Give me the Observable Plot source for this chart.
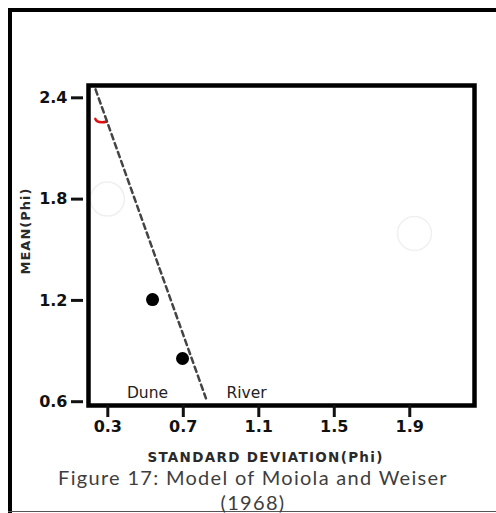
<!DOCTYPE html>
<html><head><meta charset="utf-8">
<script src="https://cdn.jsdelivr.net/npm/d3@7"></script>
<script src="https://cdn.jsdelivr.net/npm/@observablehq/plot@0.6"></script>
<style>
body{margin:0;background:#fff;}
#wrap{position:relative;width:496px;height:513px;overflow:hidden;}
#outer{position:absolute;left:8px;top:8px;width:540px;height:520px;border-left:4px solid #000;border-top:4px solid #000;box-sizing:border-box;}
#bottomline{position:absolute;left:8px;top:511px;width:500px;height:0;border-top:1.5px solid #555;}
#chart{position:absolute;left:0;top:0;}
.cap{position:absolute;left:0;width:506px;text-align:center;font-family:Lato,sans-serif;font-size:20px;color:#3e3e3e;letter-spacing:1.3px;line-height:22px;}
.xlab{letter-spacing:1.3px;}
.ylab{letter-spacing:1px;}
</style></head>
<body>
<div id="wrap"><div id="outer"></div><div id="bottomline"></div><div id="chart"></div>
<div class="cap" id="cap1" style="top:466px"></div><div class="cap" id="cap2" style="top:491px"></div></div>
<script>
// data
const stdDev = [0.537, 0.696];
const meanPhi = [1.205, 0.856];
const boundaryX = [0.235, 0.82];
const boundaryY = [2.45, 0.62];
const fieldNames = ["Dune", "River"];
const fieldX = [0.51, 1.035];
const fieldY = [0.649, 0.649];
const faintX = [0.298, 1.925];
const faintY = [1.80, 1.596];
const redArcX = [0.234, 0.245, 0.27, 0.295];
const redArcY = [2.275, 2.26, 2.255, 2.26];
const xTicks = [0.3, 0.7, 1.1, 1.5, 1.9];
const yTicks = [0.6, 1.2, 1.8, 2.4];
const xLabel = "STANDARD DEVIATION(Phi)";
const yLabel = "MEAN(Phi)";
const captionLines = ["Figure 17: Model of Moiola and Weiser", "(1968)"];

const points = stdDev.map((x, i) => ({x, y: meanPhi[i]}));
const boundary = boundaryX.map((x, i) => ({x, y: boundaryY[i]}));
const fields = fieldNames.map((t, i) => ({t, x: fieldX[i], y: fieldY[i]}));
const faint = faintX.map((x, i) => ({x, y: faintY[i]}));
const redArc = redArcX.map((x, i) => ({x, y: redArcY[i]}));
const F = "DejaVu Sans";

const chart = Plot.plot({
  width: 496, height: 470,
  marginLeft: 88, marginRight: 22, marginTop: 85, marginBottom: 65,
  style: {fontFamily: F, color: "#111", background: "transparent", overflow: "visible"},
  x: {domain: [0.1977, 2.243]},
  y: {domain: [0.5775, 2.473]},
  marks: [
    Plot.dot(faint, {x: "x", y: "y", r: 17, stroke: "#f0f0f0", strokeWidth: 1.5}),
    Plot.line(redArc, {x: "x", y: "y", stroke: "#e01010", strokeWidth: 2.5, curve: "natural"}),
    Plot.line(boundary, {x: "x", y: "y", stroke: "#444", strokeWidth: 2.5, strokeDasharray: "5.5,4"}),
    Plot.dot(points, {x: "x", y: "y", r: 6.5, fill: "#000"}),
    Plot.text(fields, {x: "x", y: "y", text: "t", fontSize: 15.5, fontFamily: F, fill: "#222"}),
    Plot.frame({stroke: "#000", strokeWidth: 4.5}),
    Plot.axisX({ticks: xTicks, tickSize: 12, tickPadding: 3, strokeWidth: 3, fontSize: 16, fontFamily: F, fontWeight: "bold", fill: "#111", label: null, tickFormat: d => d.toFixed(1)}),
    Plot.axisY({ticks: yTicks, tickSize: 12, tickPadding: 4, dx: -5, strokeWidth: 3, fontSize: 16, fontFamily: F, fontWeight: "bold", fill: "#111", label: null, tickFormat: d => d.toFixed(1)}),
    Plot.text([xLabel], {frameAnchor: "bottom", lineAnchor: "middle", dy: 52, dx: -16, fontSize: 13.5, fontFamily: F, fontWeight: "bold", fill: "#2a2a2a", className: "xlab"}),
    Plot.text([yLabel], {frameAnchor: "left", lineAnchor: "middle", rotate: -90, dx: -63, dy: 29, fontSize: 13, fontFamily: F, fontWeight: "bold", fill: "#2a2a2a", className: "ylab"})
  ]
});
document.getElementById("chart").appendChild(chart);
document.getElementById("cap1").textContent = captionLines[0];
document.getElementById("cap2").textContent = captionLines[1];
</script>
</body></html>
